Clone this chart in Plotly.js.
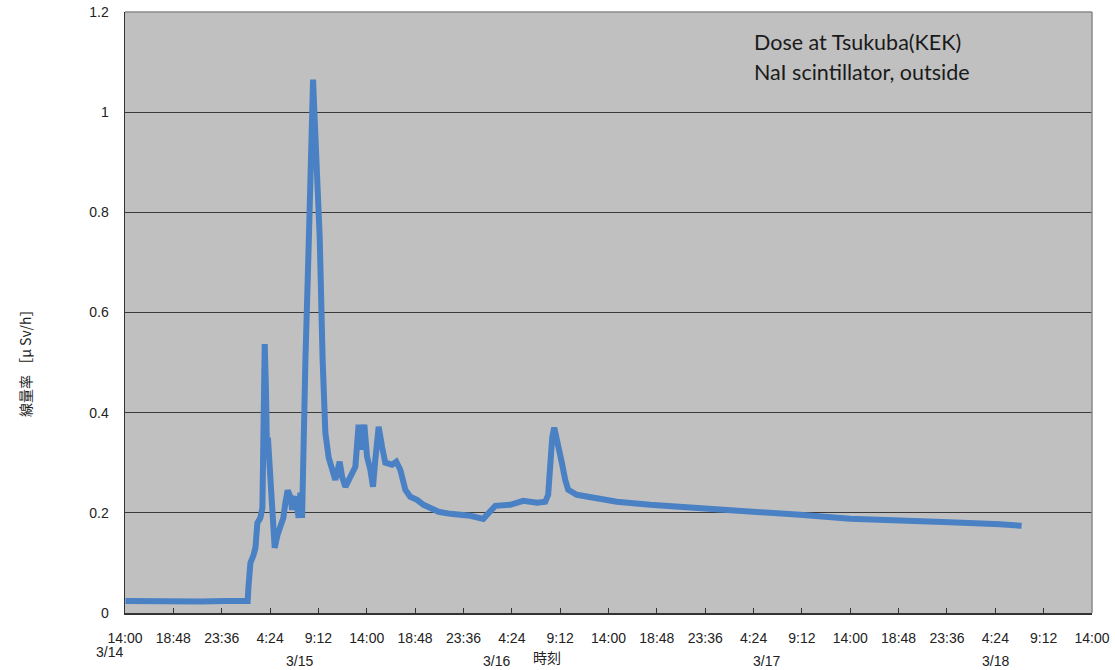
<!DOCTYPE html>
<html>
<head>
<meta charset="utf-8">
<script src="https://cdn.plot.ly/plotly-3.0.1.min.js"></script>
<style>html,body{margin:0;padding:0;background:#fff;}#chart{width:1115px;height:670px;}</style>
</head>
<body>
<div id="chart"></div>
<script>
// Hours elapsed since 3/14 14:00
var hours = [0.05, 2.5, 5.0, 7.5, 10.0, 12.18, 12.25, 12.45, 12.75, 12.95, 13.14, 13.44, 13.64, 13.87, 13.99, 14.09, 14.19, 14.34, 14.53, 14.86, 15.13, 15.43, 15.72, 15.92, 16.15, 16.42, 16.59, 16.72, 16.92, 17.24, 17.41, 17.58, 17.74, 17.91, 18.23, 18.47, 18.67, 18.80, 19.07, 19.33, 19.62, 19.79, 19.89, 20.22, 20.56, 20.88, 21.31, 21.55, 21.88, 22.37, 22.87, 23.19, 23.43, 23.76, 24.03, 24.36, 24.62, 24.85, 25.18, 25.52, 25.84, 26.51, 26.93, 27.33, 27.83, 28.32, 28.99, 29.64, 30.31, 31.13, 32.29, 34.28, 35.57, 36.06, 36.76, 38.24, 39.53, 40.92, 41.72, 42.01, 42.21, 42.41, 42.61, 42.88, 43.37, 43.70, 44.0, 44.86, 46.85, 48.83, 52.13, 57.09, 62.05, 67.01, 71.97, 76.93, 81.89, 86.85, 89.01];
// Dose rate (uSv/h)
var dose = [0.024, 0.023, 0.024, 0.023, 0.024, 0.024, 0.05, 0.10, 0.115, 0.13, 0.18, 0.19, 0.21, 0.537, 0.45, 0.33, 0.35, 0.30, 0.22, 0.13, 0.155, 0.17, 0.19, 0.22, 0.245, 0.232, 0.206, 0.225, 0.232, 0.19, 0.24, 0.19, 0.366, 0.505, 0.73, 0.88, 1.065, 1.0, 0.885, 0.75, 0.505, 0.40, 0.36, 0.31, 0.286, 0.266, 0.302, 0.272, 0.252, 0.272, 0.292, 0.376, 0.326, 0.376, 0.312, 0.286, 0.252, 0.306, 0.372, 0.332, 0.30, 0.296, 0.302, 0.286, 0.246, 0.232, 0.226, 0.216, 0.209, 0.202, 0.198, 0.194, 0.188, 0.20, 0.214, 0.216, 0.224, 0.22, 0.222, 0.236, 0.30, 0.35, 0.37, 0.34, 0.30, 0.266, 0.246, 0.236, 0.228, 0.222, 0.216, 0.21, 0.202, 0.196, 0.188, 0.186, 0.181, 0.177, 0.174];
var tickHours = [0, 4.8, 9.6, 14.4, 19.2, 24, 28.8, 33.6, 38.4, 43.2, 48, 52.8, 57.6, 62.4, 67.2, 72, 76.8, 81.6, 86.4, 91.2, 96];
var tickLabels = ['14:00','18:48','23:36','4:24','9:12','14:00','18:48','23:36','4:24','9:12','14:00','18:48','23:36','4:24','9:12','14:00','18:48','23:36','4:24','9:12','14:00'];
var dateLabels = ['3/14','3/15','3/16','3/17','3/18'];
var dateLabelX = [109, 299, 496, 766, 995];
var dateLabelY = [652, 661, 661, 661, 661];

var W = 1115, H = 670, L = 125, R = 23, T = 12, B = 57;
function px(x){ return (x - L) / (W - L - R); }
function py(y){ return (H - B - y) / (H - T - B); }

var annotations = [];
for (var i = 0; i < dateLabels.length; i++) {
  annotations.push({text: dateLabels[i], xref:'paper', yref:'paper', x: px(dateLabelX[i]), y: py(dateLabelY[i]),
    showarrow:false, xanchor:'center', yanchor:'middle', font:{family:'Liberation Sans, Arial, sans-serif', size:14, color:'#222'}});
}
annotations.push({text:'時刻', xref:'paper', yref:'paper', x: px(547), y: py(657), showarrow:false,
  xanchor:'center', yanchor:'middle', font:{family:'Noto Sans CJK JP', size:14, color:'#222'}});
annotations.push({text:'Dose at Tsukuba(KEK)', xref:'paper', yref:'paper', x: px(752), y: py(42), showarrow:false,
  xanchor:'left', yanchor:'middle', font:{family:'Lato, Open Sans, sans-serif', size:21.5, color:'#1a1a1a'}});
annotations.push({text:'NaI scintillator, outside', xref:'paper', yref:'paper', x: px(752), y: py(72), showarrow:false,
  xanchor:'left', yanchor:'middle', font:{family:'Lato, Open Sans, sans-serif', size:21.5, color:'#1a1a1a'}});
annotations.push({text:'線量率 ［μ Sv/h］', xref:'paper', yref:'paper', x: px(25), y: py(360), showarrow:false,
  textangle:-90, xanchor:'center', yanchor:'middle', font:{family:'Noto Sans CJK JP', size:14, color:'#222'}});

var trace = {x: hours, y: dose, type:'scatter', mode:'lines', line:{color:'#4a80c4', width:6}, hoverinfo:'skip'};

var layout = {
  width: W, height: H,
  margin: {l: L, r: R, t: T, b: B},
  paper_bgcolor: '#ffffff', plot_bgcolor: '#c0c0c0',
  showlegend: false,
  xaxis: {range:[0,96], tickmode:'array', tickvals: tickHours, ticktext: tickLabels, ticks:'inside', ticklen:5,
    tickcolor:'#333', showgrid:false, zeroline:false, showline:true, linecolor:'#333', linewidth:1.5,
    ticklabelstandoff: 12, tickfont:{family:'Liberation Sans, Arial, sans-serif', size:14, color:'#222'}, fixedrange:true},
  yaxis: {range:[0,1.2], dtick:0.2, tick0:0, ticks:'', showgrid:true, gridcolor:'#3a3a3a', gridwidth:1,
    zeroline:false, showline:true, linecolor:'#333', linewidth:1.5, ticklabelstandoff: 12,
    tickfont:{family:'Liberation Sans, Arial, sans-serif', size:14, color:'#222'}, fixedrange:true},
  shapes: [
    {type:'line', xref:'paper', yref:'paper', x0:0, x1:1, y0:1, y1:1, line:{color:'#8a8a8a', width:1.5}},
    {type:'line', xref:'paper', yref:'paper', x0:1, x1:1, y0:0, y1:1, line:{color:'#8a8a8a', width:1.5}}
  ],
  annotations: annotations
};
Plotly.newPlot('chart', [trace], layout, {displayModeBar:false, staticPlot:true});
</script>
</body>
</html>
